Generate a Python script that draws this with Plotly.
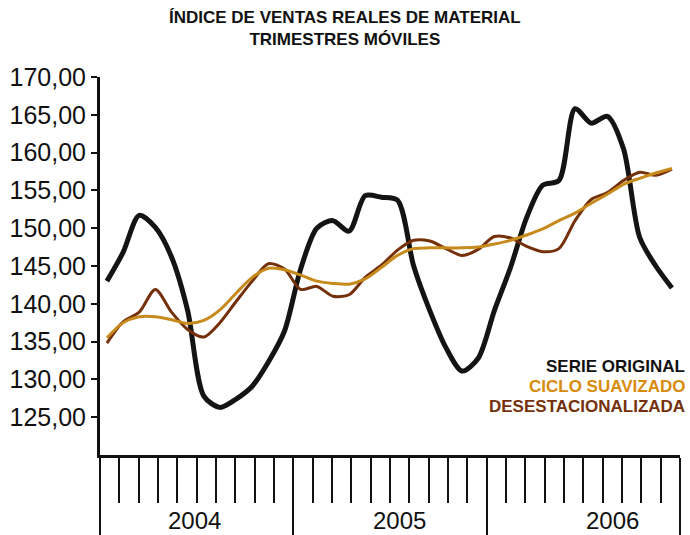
import plotly.graph_objects as go

# monthly index 2004-2006 (0 = first month of 2004)
months = list(range(36))

serie_original = [143.0, 146.8, 151.7, 150.1, 146.2, 139.1, 127.8, 126.3, 127.4, 129.1,
                  132.3, 136.4, 144.6, 150.0, 151.0, 149.6, 154.3, 154.1, 153.7, 145.0,
                  139.1, 134.2, 131.1, 132.8, 139.1, 144.8, 151.4, 155.7, 156.3, 165.8,
                  163.9, 164.8, 160.5, 148.8, 145.0, 142.1]

ciclo_suavizado = [135.5, 137.5, 138.3, 138.3, 137.9, 137.4, 137.8, 139.2, 141.4, 143.5,
                   144.7, 144.5, 143.8, 143.0, 142.7, 142.6, 143.3, 144.8, 146.4, 147.3,
                   147.4, 147.4, 147.4, 147.5, 147.9, 148.4, 149.1, 149.9, 151.0, 152.0,
                   153.3, 154.5, 155.8, 156.6, 157.3, 157.9]

desestacionalizada = [134.8, 137.6, 138.9, 141.9, 138.9, 136.6, 135.6, 137.5, 140.3, 143.0,
                      145.3, 144.6, 141.9, 142.3, 141.0, 141.2, 143.5, 145.1, 147.1, 148.4,
                      148.3, 147.3, 146.4, 147.2, 148.9, 148.7, 147.6, 146.9, 147.3, 151.0,
                      153.8, 154.7, 156.3, 157.4, 157.0, 157.8]

years = ["2004", "2005", "2006"]
year_label_pos = [5.45, 18.15, 31.3]
year_bounds = [-0.43, 11.55, 23.52, 35.5]
y_ticks = [125, 130, 135, 140, 145, 150, 155, 160, 165, 170]

names = ["SERIE ORIGINAL", "CICLO SUAVIZADO", "DESESTACIONALIZADA"]
line_colors = ["#141414", "#C78A1C", "#74300A"]
text_colors = ["#111111", "#D88A0C", "#74300A"]

fig = go.Figure()
fig.add_trace(go.Scatter(x=months, y=serie_original, mode="lines", name=names[0],
                         line=dict(color=line_colors[0], width=5, shape="spline", smoothing=0.8)))
fig.add_trace(go.Scatter(x=months, y=desestacionalizada, mode="lines", name=names[2],
                         line=dict(color=line_colors[2], width=3, shape="spline", smoothing=0.8)))
fig.add_trace(go.Scatter(x=months, y=ciclo_suavizado, mode="lines", name=names[1],
                         line=dict(color=line_colors[1], width=3, shape="spline", smoothing=0.8)))

# title (two lines, centred on the page)
fig.add_annotation(x=0.4224, y=1, xref="paper", yref="paper", yshift=49,
                   text="ÍNDICE DE VENTAS REALES DE MATERIAL<br>TRIMESTRES MÓVILES",
                   showarrow=False, xanchor="center", yanchor="middle",
                   font=dict(family="Liberation Sans, Arial", size=17, color="#111", weight="bold"))

# year labels under the axis
for yr, pos in zip(years, year_label_pos):
    fig.add_annotation(x=pos, y=0, xref="x", yref="paper", text=yr, showarrow=False,
                       yanchor="middle", yshift=-65,
                       font=dict(family="Liberation Sans, Arial", size=24, color="#111"))

# text legend at the lower right
for i, (nm, col) in enumerate(zip(names, text_colors)):
    fig.add_annotation(x=1.0, y=0.233 - i * 0.052, xref="paper", yref="paper",
                       xshift=7, text=nm, showarrow=False,
                       xanchor="right", yanchor="middle",
                       font=dict(family="Liberation Sans, Arial", size=17, color=col, weight="bold"))

fig.update_layout(
    width=690, height=535,
    margin=dict(l=100, r=10, t=77, b=80, autoexpand=False),
    paper_bgcolor="white", plot_bgcolor="white",
    showlegend=False,
    separators=",.",
)

fig.update_xaxes(range=[year_bounds[0], year_bounds[-1]], showgrid=False, zeroline=False,
                 automargin=False,
                 showline=True, linecolor="#111", linewidth=3,
                 tickmode="array", tickvals=year_bounds, showticklabels=False,
                 ticks="outside", ticklen=80, tickwidth=2, tickcolor="#111",
                 minor=dict(tickmode="linear", tick0=year_bounds[0],
                            dtick=(year_bounds[-1] - year_bounds[0]) / 30,
                            ticks="outside", ticklen=45, tickwidth=2, tickcolor="#111",
                            showgrid=False))

fig.update_yaxes(range=[120, 170], showgrid=False, zeroline=False,
                 automargin=False,
                 showline=True, linecolor="#111", linewidth=3,
                 tickmode="array", tickvals=y_ticks, tickformat=".2f",
                 ticks="outside", ticklen=6, tickwidth=2, tickcolor="#111",
                 tickfont=dict(family="Liberation Sans, Arial", size=25, color="#111"))

# the page has a default 8px body margin; drop it so the figure fills the window
fig.write_html("out.html", config={"displayModeBar": False},
               post_script="document.body.style.margin='0';")
